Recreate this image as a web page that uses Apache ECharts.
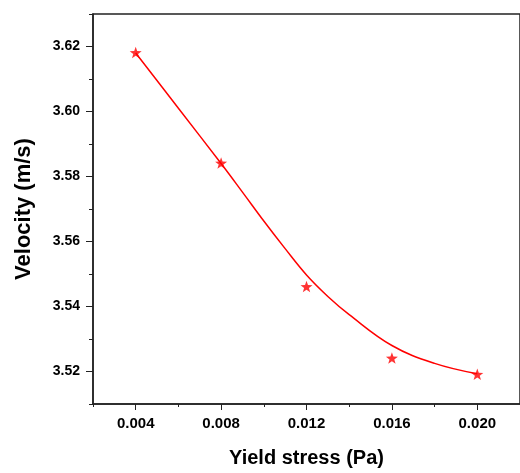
<!DOCTYPE html>
<html>
<head>
<meta charset="utf-8">
<script src="https://cdn.jsdelivr.net/npm/echarts@6/dist/echarts.min.js"></script>
<style>
html,body{margin:0;padding:0;background:#fff;}
#chart{width:520px;height:473px;}
</style>
</head>
<body>
<div id="chart"></div>
<script>
// Measured points (stars)
var yieldStress = [0.004, 0.008, 0.012, 0.016, 0.020];
var velocity = [3.618, 3.584, 3.546, 3.524, 3.519];
// Fitted curve
var curveX = [0.004, 0.006, 0.008, 0.009, 0.010, 0.011, 0.012, 0.013, 0.014, 0.016, 0.018, 0.020];
var curveY = [3.618, 3.601, 3.584, 3.5752, 3.5663, 3.5578, 3.5497, 3.5431, 3.5375, 3.528, 3.5225, 3.5193];
// Tick labels / tick positions
var xTickLabels = [0.004, 0.008, 0.012, 0.016, 0.020];
var xMinorTicks = [0.002, 0.006, 0.010, 0.014, 0.018, 0.022];
var yTickLabels = [3.52, 3.54, 3.56, 3.58, 3.60, 3.62];
var yMinorTicks = [3.51, 3.53, 3.55, 3.57, 3.59, 3.61, 3.63];

var FONT = 'Liberation Sans, Arial, sans-serif';
var AX = '#222';
var STAR = 'path://M50,0 L61.76,33.82 L97.55,34.55 L69.02,56.18 L79.39,90.45 L50,70 L20.61,90.45 L30.98,56.18 L2.45,34.55 L38.24,33.82 Z';

function zip(a, b) { return a.map(function (v, i) { return [v, b[i]]; }); }

var chart = echarts.init(document.getElementById('chart'));
chart.setOption({
  animation: false,
  backgroundColor: '#fff',
  grid: {left: 93, top: 14, right: -2, bottom: 64, show: true, borderColor: AX, borderWidth: 1.5, backgroundColor: 'transparent'},
  xAxis: [{
    type: 'value', min: 0.002, max: 0.022,
    name: 'Yield stress (Pa)', nameLocation: 'middle', nameGap: 44,
    nameTextStyle: {fontFamily: FONT, fontWeight: 'bold', fontSize: 20, color: '#000'},
    axisLine: {show: true, lineStyle: {color: AX, width: 1.5}},
    axisTick: {show: true, length: 6, lineStyle: {color: AX, width: 1}, customValues: xTickLabels},
    axisLabel: {show: true, margin: 12, fontFamily: FONT, fontWeight: 'bold', fontSize: 15, color: '#000',
      customValues: xTickLabels, formatter: function (v) { return v.toFixed(3); }},
    splitLine: {show: false}
  }, {
    type: 'value', min: 0.002, max: 0.022, position: 'bottom',
    axisLine: {show: false},
    axisTick: {show: true, length: 3, lineStyle: {color: AX, width: 1}, customValues: xMinorTicks},
    axisLabel: {show: false},
    splitLine: {show: false}
  }],
  yAxis: [{
    type: 'value', min: 3.51, max: 3.63,
    name: 'Velocity (m/s)', nameLocation: 'middle', nameGap: 58, nameRotate: 90,
    nameTextStyle: {fontFamily: FONT, fontWeight: 'bold', fontSize: 22, color: '#000'},
    axisLine: {show: true, lineStyle: {color: AX, width: 1.5}},
    axisTick: {show: true, length: 7, lineStyle: {color: AX, width: 1}, customValues: yTickLabels},
    axisLabel: {show: true, margin: 13, fontFamily: FONT, fontWeight: 'bold', fontSize: 14, color: '#000',
      customValues: yTickLabels, formatter: function (v) { return v.toFixed(2); }},
    splitLine: {show: false}
  }, {
    type: 'value', min: 3.51, max: 3.63, position: 'left',
    axisLine: {show: false},
    axisTick: {show: true, length: 4, lineStyle: {color: AX, width: 1}, customValues: yMinorTicks},
    axisLabel: {show: false},
    splitLine: {show: false}
  }],
  series: [{
    type: 'line', xAxisIndex: 0, yAxisIndex: 0,
    data: zip(curveX, curveY), smooth: 0.4, symbol: 'none',
    lineStyle: {color: '#ff0000', width: 1.5}, z: 2
  }, {
    type: 'scatter', xAxisIndex: 0, yAxisIndex: 0,
    data: zip(yieldStress, velocity), symbol: STAR, symbolSize: [12, 11.5], symbolOffset: [0, -0.5],
    itemStyle: {color: '#ff0000'}, z: 3
  }]
});
</script>
</body>
</html>
